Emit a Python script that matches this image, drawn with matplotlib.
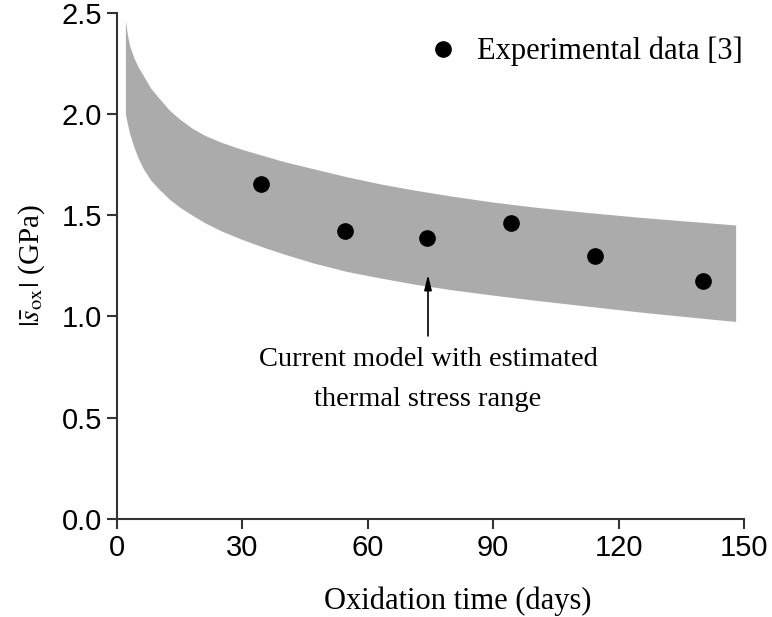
import matplotlib.pyplot as plt

plt.rcParams['mathtext.fontset'] = 'stix'

# model band (upper / lower bound of estimated thermal stress)
t_model = [2, 2.5, 3, 4, 5, 6.3, 8, 10, 12.5, 15, 18, 21, 25, 30, 35, 40, 47,
           55, 63, 71, 80, 90, 100, 112, 125, 137, 148]
s_upper = [2.465, 2.39, 2.34, 2.28, 2.235, 2.19, 2.13, 2.08, 2.02, 1.975,
           1.93, 1.895, 1.86, 1.825, 1.795, 1.765, 1.73, 1.69, 1.655, 1.625,
           1.595, 1.565, 1.54, 1.515, 1.49, 1.47, 1.452]
s_lower = [2.0, 1.95, 1.905, 1.84, 1.785, 1.73, 1.675, 1.63, 1.58, 1.54,
           1.5, 1.463, 1.422, 1.38, 1.342, 1.308, 1.264, 1.222, 1.19, 1.16,
           1.132, 1.105, 1.08, 1.052, 1.022, 0.997, 0.975]

# experimental points
t_exp = [34.4, 54.5, 74.2, 94.3, 114.4, 140.2]
s_exp = [1.653, 1.42, 1.386, 1.46, 1.297, 1.173]

xticks = [0, 30, 60, 90, 120, 150]
yticks = [0.0, 0.5, 1.0, 1.5, 2.0, 2.5]

serif = 'Liberation Serif'
sans = 'Liberation Sans'

fig = plt.figure(figsize=(7.72, 6.17), dpi=100)
ax = fig.add_axes([0.1516, 0.1593, 0.8121, 0.8197])

ax.fill_between(t_model, s_lower, s_upper, color='#ababab', lw=0)
ax.plot(t_exp, s_exp, 'o', color='black', ms=11, label='Experimental data [3]')

ax.annotate('', xy=(74.4, 1.22), xytext=(74.4, 0.89),
            arrowprops=dict(arrowstyle='-|>,head_length=0.9,head_width=0.22',
                            color='black', lw=1.2))
ax.text(74.4, 0.69, 'Current model with estimated\nthermal stress range',
        ha='center', va='center', fontsize=20.5, family=serif, linespacing=1.8)

ax.set_xlim(0, 150)
ax.set_ylim(0, 2.5)
ax.set_xticks(xticks)
ax.set_yticks(yticks)
ax.set_yticklabels([f'{v:.1f}' for v in yticks])
for lab in ax.get_xticklabels() + ax.get_yticklabels():
    lab.set_family(sans)
    lab.set_fontsize(21)

for side in ('top', 'right'):
    ax.spines[side].set_visible(False)
for side in ('left', 'bottom'):
    ax.spines[side].set_color('#333333')
    ax.spines[side].set_linewidth(1.5)
ax.tick_params(direction='out', length=7, width=1.5, color='#333333', pad=4)

ax.set_xlabel('Oxidation time (days)', fontsize=22, family=serif, labelpad=16)
ax.xaxis.set_label_coords(0.543, -0.135)
ax.set_ylabel(r'$|\bar{s}_{\mathrm{ox}}|$ (GPa)', fontsize=21, family=serif, labelpad=10)

leg = ax.legend(loc='upper right', bbox_to_anchor=(1.032, 0.995), frameon=False,
                handletextpad=0.5, handlelength=1.2, borderaxespad=0.3,
                prop={'family': serif, 'size': 22})

fig.savefig('out.png', dpi=100)
